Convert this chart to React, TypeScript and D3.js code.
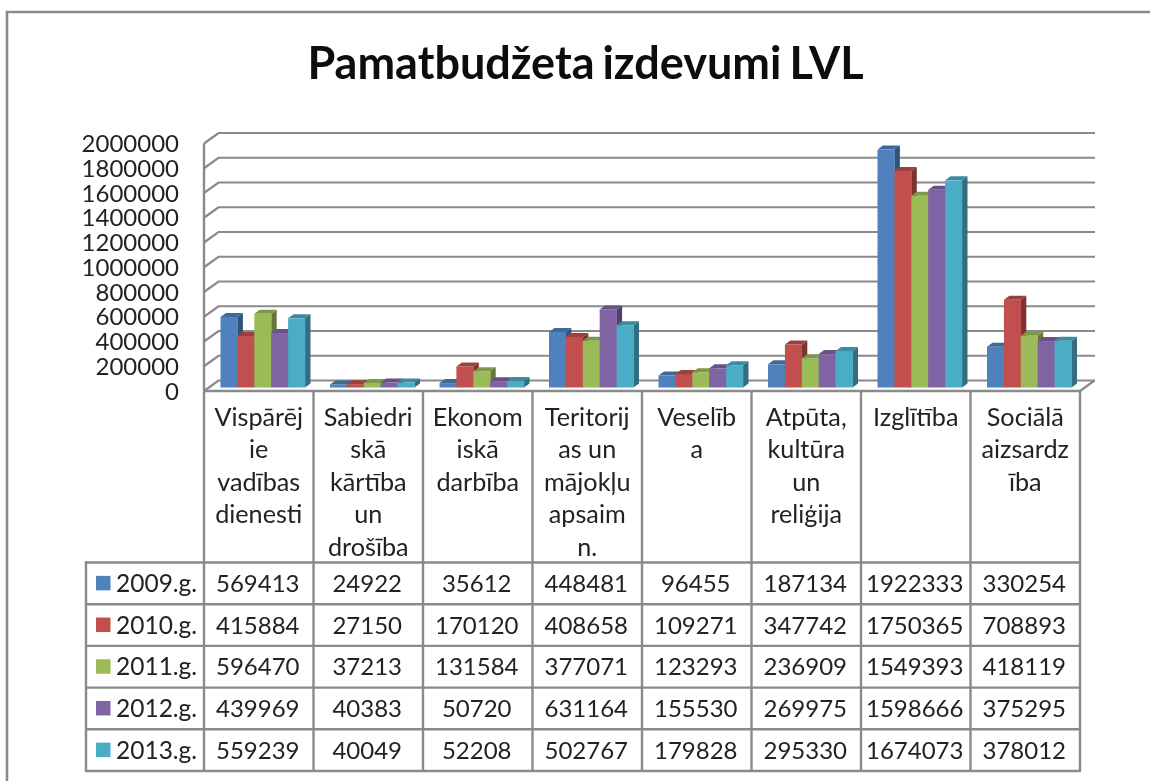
import React from "react";
import * as d3 from "d3";

const title = "Pamatbudžeta izdevumi LVL";
const categories = [
  ["Vispārēj", "ie", "vadības", "dienesti"],
  ["Sabiedri", "skā", "kārtība", "un", "drošība"],
  ["Ekonom", "iskā", "darbība"],
  ["Teritorij", "as un", "mājokļu", "apsaim", "n."],
  ["Veselīb", "a"],
  ["Atpūta,", "kultūra", "un", "reliģija"],
  ["Izglītība"],
  ["Sociālā", "aizsardz", "ība"],
];
const years = ["2009.g.", "2010.g.", "2011.g.", "2012.g.", "2013.g."];
const v2009 = [569413, 24922, 35612, 448481, 96455, 187134, 1922333, 330254];
const v2010 = [415884, 27150, 170120, 408658, 109271, 347742, 1750365, 708893];
const v2011 = [596470, 37213, 131584, 377071, 123293, 236909, 1549393, 418119];
const v2012 = [439969, 40383, 50720, 631164, 155530, 269975, 1598666, 375295];
const v2013 = [559239, 40049, 52208, 502767, 179828, 295330, 1674073, 378012];
const series = [v2009, v2010, v2011, v2012, v2013];
const colors = ["#4f81bd", "#c0504d", "#9bbb59", "#8064a2", "#4bacc6"];
const ticks = [0, 200000, 400000, 600000, 800000, 1000000, 1200000, 1400000, 1600000, 1800000, 2000000];

const FONT = "Lato, 'Open Sans', sans-serif";
const GRID = "#8a8a8a";
const TEXT = "#222222";
const W = 1150, H = 781;
const frontL = 204, frontR = 1080;
const depthX = 14.5, depthY = 10.5;
const yFront = d3.scaleLinear().domain([0, 2000000]).range([391, 143.5]);
const x = d3.scaleBand<number>().domain(d3.range(categories.length)).range([frontL, frontR]);
const rowY = d3.scaleBand<number>().domain(d3.range(years.length)).range([562.5, 771]);
const barBase = 387.5;
const barH = (v: number) => yFront(0) - yFront(v);
const barInner = 16.5;
const barDX = 5.5, barDY = 4;

function dark(c: string, k: number) {
  return d3.rgb(c).darker(k).formatHex();
}

export default function App() {
  const bw = (x.bandwidth() - 25) / 5;
  return (
    <svg width={W} height={H} viewBox={`0 0 ${W} ${H}`} style={{ position: "absolute", left: 0, top: 0, display: "block", background: "#fff" }}>
      <defs>
        <filter id="soft" x="0" y="0" width={W} height={H} filterUnits="userSpaceOnUse">
          <feGaussianBlur stdDeviation="0.5" />
        </filter>
      </defs>
      <g filter="url(#soft)" fontFamily={FONT} fill={TEXT}>
        <path d={`M7,${H}V12H${W}`} fill="none" stroke={GRID} strokeWidth={2.6} />
        <text x={585.5} y={79} textAnchor="middle" fontSize={45} fontWeight={700} wordSpacing={-3} fill="#111">{title}</text>

        {ticks.map((t) => (
          <g key={t}>
            <path
              d={`M${frontL},${yFront(t)}L${frontL + depthX},${yFront(t) - depthY}H${frontR + depthX + 0.5}`}
              fill="none" stroke={GRID} strokeWidth={2.2}
            />
            <text x={179} y={yFront(t) + 8.5} textAnchor="end" fontSize={24}>{t}</text>
          </g>
        ))}
        <path d={`M${frontL},${yFront(2000000)}V${yFront(0)}`} stroke={GRID} strokeWidth={2.4} fill="none" />
        <path d={`M${frontR},${yFront(0)}L${frontR + depthX},${yFront(0) - depthY}`} stroke={GRID} strokeWidth={2.2} fill="none" />

        {categories.map((_, ci) =>
          series.map((s, si) => {
            const x0 = x(ci)! + barInner + si * bw;
            const h = barH(s[ci]);
            const top = barBase - h;
            const c = colors[si];
            return (
              <g key={`${ci}-${si}`}>
                <path d={`M${x0 + bw},${barBase}V${top}l${barDX},${-barDY}V${barBase - barDY}Z`} fill={dark(c, 1.25)} />
                <path d={`M${x0},${top}l${barDX},${-barDY}H${x0 + bw + barDX}L${x0 + bw},${top}Z`} fill={dark(c, 0.6)} />
                <rect x={x0} y={top} width={bw + 0.3} height={h} fill={c} />
              </g>
            );
          })
        )}

        <path d={`M${frontL},${yFront(0)}H${frontR}`} stroke={GRID} strokeWidth={2.4} />
        {d3.range(categories.length + 1).map((i) => (
          <path key={i} d={`M${frontL + i * x.bandwidth()},${yFront(0)}V771`} stroke={GRID} strokeWidth={2.4} />
        ))}
        <path d="M86,561.5V772" stroke={GRID} strokeWidth={2.4} />
        {d3.range(years.length + 1).map((i) => {
          const y = 562.5 + i * rowY.bandwidth();
          return <path key={i} d={`M85,${y}H${frontR + 1}`} stroke={GRID} strokeWidth={2.4} />;
        })}

        {categories.map((lines, ci) =>
          lines.map((l, li) => (
            <text key={li} x={x(ci)! + x.bandwidth() / 2} y={426 + li * 32.4} textAnchor="middle" fontSize={25.2}>{l}</text>
          ))
        )}
        {years.map((yr, ri) => {
          const cy = rowY(ri)! + rowY.bandwidth() / 2;
          return (
            <g key={yr}>
              <rect x={96} y={cy - 7.5} width={14.5} height={14.5} fill={colors[ri]} />
              <text x={116} y={cy + 8.5} fontSize={24.5}>{yr}</text>
              {series[ri].map((v, ci) => (
                <text key={ci} x={x(ci)! + x.bandwidth() / 2 - 1} y={cy + 8.5} textAnchor="middle" fontSize={24}>{v}</text>
              ))}
            </g>
          );
        })}
      </g>
    </svg>
  );
}
